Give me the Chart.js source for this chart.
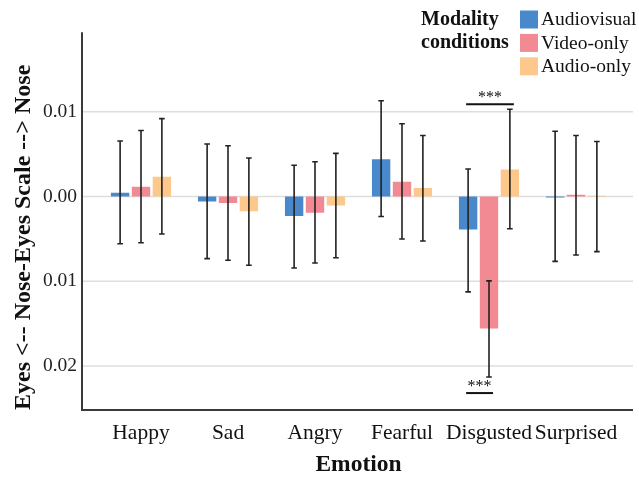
<!DOCTYPE html>
<html>
<head>
<meta charset="utf-8">
<script src="https://cdn.jsdelivr.net/npm/chart.js@4/dist/chart.umd.min.js"></script>
<style>
  body { margin: 0; background: #fff; }
  #wrap { width: 639px; height: 477px; }
</style>
</head>
<body>
<div id="wrap"><canvas id="emotionChart" width="639" height="477"></canvas></div>
<script>
// Chart data
const emotions = ["Happy", "Sad", "Angry", "Fearful", "Disgusted", "Surprised"];
const seriesNames = ["Audiovisual", "Video-only", "Audio-only"];
const seriesColors = ["#4a88cc", "#f28a94", "#fcc88c"];

const audiovisual = [0.00045, -0.0006, -0.0023, 0.0044, -0.0039, -0.0001];
const videoOnly = [0.00115, -0.00075, -0.0019, 0.00176, -0.01557, 0.0002];
const audioOnly = [0.00235, -0.00175, -0.00105, 0.001, 0.0032, 0.0001];

// error bar ends (upper / lower)
const audiovisualHigh = [0.00655, 0.0062, 0.0037, 0.0113, 0.00325, 0.0077];
const audiovisualLow = [-0.00557, -0.00733, -0.00843, -0.00235, -0.01125, -0.00765];
const videoOnlyHigh = [0.0078, 0.006, 0.0041, 0.0086, -0.00996, 0.0072];
const videoOnlyLow = [-0.00545, -0.00753, -0.00784, -0.00502, -0.0213, -0.0069];
const audioOnlyHigh = [0.0092, 0.00455, 0.0051, 0.0072, 0.0103, 0.0065];
const audioOnlyLow = [-0.00443, -0.00812, -0.00722, -0.00525, -0.0038, -0.0065];

const yTicks = [0.01, 0, -0.01, -0.02];
const yTickLabels = ["0.01", "0.00", "0.01", "0.02"];

// significance brackets: category, first bar, last bar, value of the line
const sigMarks = [
  { cat: 4, from: 0, to: 2, value: 0.0109, text: "***" },
  { cat: 4, from: 0, to: 1, value: -0.0232, text: "***" }
];

const highs = [audiovisualHigh, videoOnlyHigh, audioOnlyHigh];
const lows = [audiovisualLow, videoOnlyLow, audioOnlyLow];

Chart.defaults.font.family = "'Liberation Serif', 'Times New Roman', serif";
Chart.defaults.color = "#111";

const extras = {
  id: "extras",
  beforeDatasetsDraw(chart) {
    const { ctx, chartArea: a, scales: { y } } = chart;
    ctx.save();
    ctx.strokeStyle = "#dedede";
    ctx.lineWidth = 1.5;
    yTicks.forEach(v => {
      const py = y.getPixelForValue(v);
      ctx.beginPath();
      ctx.moveTo(a.left - 15.5, py);
      ctx.lineTo(a.right + 13.5, py);
      ctx.stroke();
    });
    ctx.restore();
  },
  afterDatasetsDraw(chart) {
    const { ctx, chartArea: a, scales: { y } } = chart;
    ctx.save();

    // error bars
    ctx.strokeStyle = "#222";
    ctx.lineWidth = 1.6;
    chart.data.datasets.forEach((ds, i) => {
      chart.getDatasetMeta(i).data.forEach((bar, j) => {
        const top = y.getPixelForValue(highs[i][j]);
        const bot = y.getPixelForValue(lows[i][j]);
        ctx.beginPath();
        ctx.moveTo(bar.x, top);
        ctx.lineTo(bar.x, bot);
        ctx.moveTo(bar.x - 2.8, top);
        ctx.lineTo(bar.x + 2.8, top);
        ctx.moveTo(bar.x - 2.8, bot);
        ctx.lineTo(bar.x + 2.8, bot);
        ctx.stroke();
      });
    });

    // axis lines
    ctx.strokeStyle = "#3a3a3a";
    ctx.lineWidth = 2;
    ctx.beginPath();
    ctx.moveTo(a.left - 15.5, a.top);
    ctx.lineTo(a.left - 15.5, a.bottom);
    ctx.lineTo(a.right + 13.5, a.bottom);
    ctx.stroke();

    // significance marks
    ctx.strokeStyle = "#111";
    ctx.fillStyle = "#111";
    ctx.lineWidth = 2;
    ctx.font = "16px 'Liberation Serif'";
    ctx.textAlign = "center";
    ctx.textBaseline = "middle";
    sigMarks.forEach(m => {
      const x1 = chart.getDatasetMeta(m.from).data[m.cat].x - 2;
      const x2 = chart.getDatasetMeta(m.to).data[m.cat].x + 4;
      const py = y.getPixelForValue(m.value);
      ctx.beginPath();
      ctx.moveTo(x1, py);
      ctx.lineTo(x2, py);
      ctx.stroke();
      ctx.fillText(m.text, (x1 + x2) / 2, py - 6);
    });

    // legend
    ctx.textAlign = "left";
    ctx.font = "bold 20px 'Liberation Serif'";
    ctx.fillText("Modality", 421, 20);
    ctx.fillText("conditions", 421, 43);
    ctx.font = "19.5px 'Liberation Serif'";
    seriesNames.forEach((name, i) => {
      const by = 10.5 + i * 23.4;
      ctx.fillStyle = seriesColors[i];
      ctx.fillRect(520, by, 18, 18);
      ctx.fillStyle = "#111";
      ctx.fillText(name, 541, by + 9.5);
    });

    ctx.restore();
  }
};

new Chart(document.getElementById("emotionChart"), {
  type: "bar",
  data: {
    labels: emotions,
    datasets: [
      { label: seriesNames[0], data: audiovisual, backgroundColor: seriesColors[0] },
      { label: seriesNames[1], data: videoOnly, backgroundColor: seriesColors[1] },
      { label: seriesNames[2], data: audioOnly, backgroundColor: seriesColors[2] }
    ]
  },
  options: {
    responsive: false,
    animation: false,
    layout: { padding: { top: 31, right: 19.5, bottom: 0, left: 0 } },
    datasets: {
      bar: { categoryPercentage: 0.72, barPercentage: 0.88, borderWidth: 0 }
    },
    plugins: {
      legend: { display: false },
      tooltip: { enabled: false }
    },
    scales: {
      x: {
        grid: { display: false, drawTicks: false },
        border: { display: false },
        ticks: {
          font: { size: 21.5 },
          padding: 10,
          color: "#111",
          maxRotation: 0,
          minRotation: 0,
          autoSkip: false
        },
        title: {
          display: true,
          text: "Emotion",
          font: { size: 23.5, weight: "bold", lineHeight: 1 },
          padding: { top: 0, bottom: 0 },
          color: "#111"
        },
        afterFit: s => { s.height = 67; }
      },
      y: {
        min: -0.0252,
        max: 0.0194,
        grid: { display: false, drawTicks: false },
        border: { display: false },
        afterBuildTicks: s => { s.ticks = yTicks.map(v => ({ value: v })); },
        ticks: {
          font: { size: 19.5 },
          padding: 20.5,
          color: "#222",
          callback: (v, i) => yTickLabels[i]
        },
        title: {
          display: true,
          text: "Eyes <-- Nose-Eyes Scale --> Nose",
          align: "start",
          font: { size: 24, weight: "bold", lineHeight: 1 },
          padding: { top: 12, bottom: 0 },
          color: "#111"
        },
        afterFit: s => { s.width = 97.5; }
      }
    }
  },
  plugins: [extras]
});
</script>
</body>
</html>
